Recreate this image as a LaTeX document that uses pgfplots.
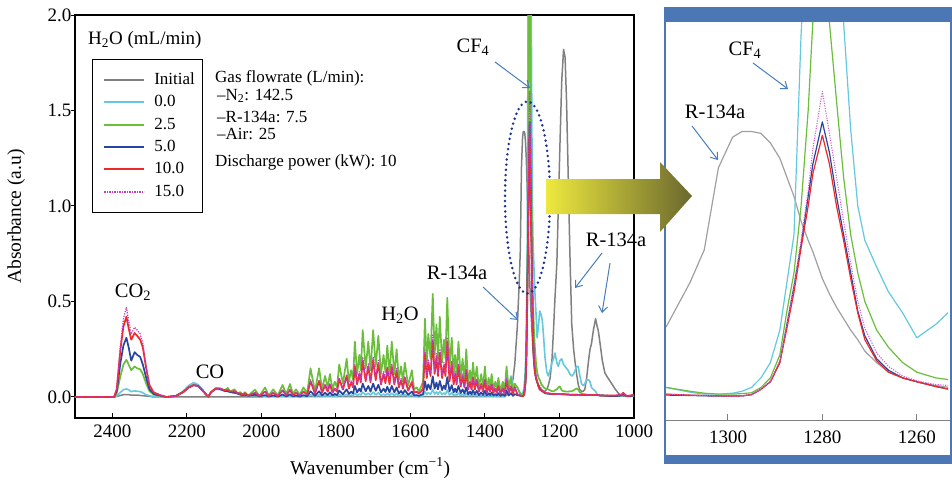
\documentclass[border=0pt]{standalone}
\usepackage{fontspec}
\setmainfont{Liberation Serif}
\usepackage{pgfplots}
\pgfplotsset{compat=1.18}
\usepackage{pgfplotstable}
\usetikzlibrary{arrows.meta}

\definecolor{cGray}{RGB}{128,128,128}
\definecolor{cCyan}{RGB}{100,200,222}
\definecolor{cGreen}{RGB}{106,190,60}
\definecolor{cBlue}{RGB}{40,70,160}
\definecolor{cRed}{RGB}{238,40,40}
\definecolor{cMag}{RGB}{200,60,190}
\definecolor{arrBlue}{RGB}{70,125,190}
\definecolor{ellBlue}{RGB}{30,50,150}
\definecolor{frameBlue}{RGB}{75,120,180}

\pgfplotstableread{
w ini c0 c25 c5 c10 c15
2500 0 0 0 0 0 0
2395 0 0 0 0 0 0
2388 0.003 0.005 0.02 0.03 0.04 0.045
2378 0.008 0.025 0.11 0.18 0.25 0.27
2370 0.012 0.038 0.17 0.27 0.37 0.41
2362 0.012 0.042 0.195 0.31 0.42 0.47
2356 0.012 0.038 0.17 0.26 0.36 0.40
2349 0.01 0.028 0.14 0.19 0.30 0.33
2340 0.01 0.032 0.16 0.235 0.335 0.365
2333 0.01 0.03 0.15 0.22 0.32 0.35
2325 0.008 0.028 0.145 0.21 0.30 0.33
2318 0.007 0.022 0.12 0.17 0.26 0.28
2309 0.005 0.012 0.07 0.10 0.15 0.16
2300 0.003 0.006 0.03 0.04 0.06 0.065
2288 0 0.003 0.012 0.015 0.022 0.025
2272 0 0.002 0.006 0.008 0.01 0.012
2255 0 0 0 0 0 0
2230 0 0.005 0.005 0.005 0.005 0.005
2210 0 0.03 0.025 0.025 0.025 0.025
2195 0 0.06 0.05 0.05 0.05 0.05
2182 0 0.075 0.062 0.062 0.062 0.062
2170 0 0.065 0.058 0.058 0.058 0.058
2158 0 0.04 0.035 0.035 0.035 0.035
2147 0 0.01 0.01 0.01 0.01 0.01
2142 0 0.003 0.002 0.002 0.002 0.002
2135 0 0.025 0.025 0.025 0.025 0.025
2122 0 0.042 0.045 0.045 0.045 0.045
2112 0 0.04 0.045 0.042 0.045 0.045
2098 0 0.03 0.035 0.032 0.035 0.035
2090 0 0.03 0.048 0.03 0.036 0.037
2084 0 0.025 0.028 0.026 0.028 0.028
2072 0 0.022 0.04 0.022 0.03 0.03
2064 0 0.018 0.02 0.018 0.02 0.02
2056 0 0.012 0.025 0.012 0.018 0.018
2050 0 0.01 0.012 0.01 0.012 0.012
2044 0 0.01 0.025 0.012 0.02 0.02
2035 0 0.005 0.008 0.006 0.007 0.007
2017 0 0.008 0.038 0.012 0.022 0.024
2005 0 0.003 0.006 0.004 0.005 0.005
1990 0.002 0.004 0.05 0.010 0.028 0.030
1980 0.002 0.002 0.008 0.002 0.004 0.005
1968 0.002 0.003 0.04 0.008 0.022 0.024
1956 0.002 0.002 0.008 0.002 0.004 0.005
1943 0.002 0.004 0.063 0.013 0.035 0.038
1933 0.002 0.002 0.015 0.003 0.008 0.009
1923 0.002 0.005 0.068 0.014 0.037 0.041
1915 0.002 0.002 0.015 0.003 0.008 0.009
1907 0.002 0.003 0.04 0.008 0.022 0.024
1897 0.002 0.002 0.012 0.002 0.007 0.007
1887 0.002 0.004 0.05 0.010 0.028 0.030
1877 0.002 0.002 0.02 0.004 0.011 0.012
1868 0.002 0.011 0.15 0.030 0.083 0.090
1856 0.002 0.002 0.03 0.006 0.017 0.018
1845 0.002 0.011 0.15 0.030 0.083 0.090
1837 0.002 0.003 0.04 0.008 0.022 0.024
1829 0.002 0.008 0.11 0.022 0.061 0.066
1822 0.002 0.004 0.05 0.010 0.028 0.030
1816 0.002 0.008 0.12 0.024 0.066 0.072
1809 0.002 0.003 0.04 0.008 0.022 0.024
1803 0.002 0.006 0.08 0.016 0.044 0.048
1797 0.002 0.004 0.05 0.010 0.028 0.030
1791 0.002 0.012 0.17 0.034 0.094 0.102
1781 0.002 0.005 0.07 0.014 0.039 0.042
1771 0.002 0.014 0.20 0.040 0.110 0.120
1765 0.002 0.006 0.08 0.016 0.044 0.048
1759 0.002 0.010 0.14 0.028 0.077 0.084
1754 0.002 0.006 0.09 0.018 0.050 0.054
1749 0.002 0.020 0.29 0.058 0.160 0.174
1743 0.002 0.008 0.12 0.024 0.066 0.072
1737 0.002 0.015 0.22 0.044 0.121 0.132
1733 0.002 0.010 0.14 0.028 0.077 0.084
1728 0.002 0.025 0.35 0.070 0.193 0.210
1720 0.002 0.011 0.15 0.030 0.083 0.090
1713 0.002 0.020 0.29 0.058 0.160 0.174
1707 0.002 0.010 0.14 0.028 0.077 0.084
1700 0.002 0.025 0.35 0.070 0.193 0.210
1693 0.002 0.011 0.16 0.032 0.088 0.096
1686 0.002 0.022 0.32 0.064 0.176 0.192
1679 0.002 0.008 0.12 0.024 0.066 0.072
1672 0.002 0.015 0.22 0.044 0.121 0.132
1667 0.002 0.009 0.13 0.026 0.072 0.078
1662 0.002 0.019 0.27 0.054 0.149 0.162
1656 0.002 0.008 0.12 0.024 0.066 0.072
1650 0.002 0.020 0.29 0.058 0.160 0.174
1643 0.002 0.008 0.12 0.024 0.066 0.072
1637 0.002 0.018 0.25 0.050 0.138 0.150
1631 0.002 0.006 0.09 0.018 0.050 0.054
1625 0.002 0.011 0.16 0.032 0.088 0.096
1620 0.002 0.006 0.08 0.016 0.044 0.048
1615 0.002 0.013 0.18 0.036 0.099 0.108
1606 0.002 0.004 0.06 0.012 0.033 0.036
1596 0.002 0.010 0.14 0.028 0.077 0.084
1590 0.002 0.003 0.04 0.008 0.022 0.024
1583 0.002 0.004 0.05 0.010 0.028 0.030
1577 0.002 0.002 0.03 0.006 0.017 0.018
1570 0.002 0.004 0.06 0.012 0.033 0.036
1566 0.002 0.006 0.08 0.016 0.044 0.048
1561 0.002 0.029 0.41 0.082 0.226 0.246
1556 0.002 0.013 0.18 0.036 0.099 0.108
1552 0.002 0.023 0.33 0.066 0.182 0.198
1546 0.002 0.014 0.20 0.040 0.110 0.120
1540 0.002 0.038 0.54 0.108 0.297 0.324
1535 0.002 0.015 0.22 0.044 0.121 0.132
1530 0.002 0.027 0.38 0.076 0.209 0.228
1526 0.002 0.014 0.20 0.040 0.110 0.120
1521 0.002 0.029 0.42 0.084 0.231 0.252
1515 0.002 0.013 0.18 0.036 0.099 0.108
1510 0.002 0.021 0.30 0.060 0.165 0.180
1506 0.002 0.014 0.20 0.040 0.110 0.120
1501 0.002 0.036 0.52 0.104 0.286 0.312
1495 0.002 0.011 0.15 0.030 0.083 0.090
1489 0.002 0.022 0.31 0.062 0.171 0.186
1484 0.002 0.008 0.12 0.024 0.066 0.072
1480 0.002 0.015 0.22 0.044 0.121 0.132
1476 0.002 0.008 0.12 0.024 0.066 0.072
1471 0.002 0.020 0.29 0.058 0.160 0.174
1465 0.002 0.007 0.10 0.020 0.055 0.060
1460 0.002 0.014 0.20 0.040 0.110 0.120
1455 0.002 0.006 0.09 0.018 0.050 0.054
1450 0.002 0.018 0.25 0.050 0.138 0.150
1445 0.002 0.005 0.07 0.014 0.039 0.042
1440 0.002 0.010 0.14 0.028 0.077 0.084
1436 0.002 0.005 0.07 0.014 0.039 0.042
1432 0.002 0.013 0.18 0.036 0.099 0.108
1427 0.002 0.005 0.07 0.014 0.039 0.042
1422 0.002 0.011 0.16 0.032 0.088 0.096
1416 0.002 0.004 0.05 0.010 0.028 0.030
1410 0.002 0.008 0.12 0.024 0.066 0.072
1405 0.002 0.004 0.05 0.010 0.028 0.030
1400 0.002 0.011 0.16 0.032 0.088 0.096
1395 0.002 0.003 0.04 0.008 0.022 0.024
1390 0.002 0.007 0.10 0.020 0.055 0.060
1386 0.002 0.004 0.05 0.010 0.028 0.030
1382 0.002 0.008 0.12 0.024 0.066 0.072
1377 0.002 0.003 0.04 0.008 0.022 0.024
1372 0.002 0.006 0.08 0.016 0.044 0.048
1368 0.002 0.003 0.04 0.008 0.022 0.024
1364 0.002 0.007 0.10 0.020 0.055 0.060
1358 0.002 0.002 0.03 0.006 0.017 0.018
1352 0.002 0.006 0.08 0.016 0.044 0.048
1347 0.002 0.002 0.03 0.006 0.017 0.018
1342 0.01 0.04 0.16 0.032 0.088 0.096
1336 0.02 0.06 0.04 0.008 0.022 0.024
1330 0.05 0.11 0.10 0.02 0.055 0.06
1325 0.09 0.07 0.03 0.006 0.017 0.018
1320 0.17 0.06 0.07 0.015 0.05 0.05
1313 0.37 0.05 0.05 0.01 0.015 0.015
1308 0.60 0.025 0.03 0.008 0.01 0.01
1305 0.77 0.015 0.02 0.006 0.008 0.008
1302 1.20 0.015 0.015 0.005 0.006 0.006
1299 1.36 0.02 0.015 0.005 0.005 0.005
1297 1.39 0.03 0.018 0.006 0.006 0.006
1295 1.39 0.05 0.022 0.012 0.012 0.012
1293 1.38 0.10 0.05 0.04 0.04 0.04
1291 1.33 0.18 0.10 0.08 0.08 0.085
1289 1.25 0.35 0.22 0.18 0.18 0.19
1287.5 1.15 0.6 0.45 0.38 0.36 0.38
1286 1.05 0.85 0.65 0.58 0.55 0.58
1284.5 0.92 1.9 1.0 0.80 0.78 0.82
1283 0.82 2.6 1.5 1.05 1.0 1.08
1282 0.76 2.9 1.97 1.22 1.17 1.3
1280 0.62 3.1 2.6 1.44 1.37 1.6
1278.5 0.54 2.9 1.96 1.28 1.22 1.38
1277 0.47 2.5 1.55 1.05 1.0 1.15
1275.5 0.41 1.96 1.15 0.85 0.82 0.92
1274 0.35 1.4 0.85 0.65 0.62 0.70
1272.5 0.30 1.0 0.65 0.45 0.44 0.50
1271 0.24 0.82 0.50 0.32 0.30 0.36
1268.5 0.18 0.68 0.35 0.20 0.19 0.23
1266 0.13 0.55 0.26 0.14 0.13 0.16
1263 0.10 0.44 0.18 0.10 0.10 0.11
1260 0.08 0.31 0.13 0.08 0.08 0.085
1256 0.06 0.38 0.10 0.055 0.055 0.065
1253 0.05 0.45 0.09 0.04 0.04 0.06
1249 0.04 0.43 0.07 0.035 0.035 0.045
1246 0.035 0.40 0.06 0.03 0.03 0.035
1242 0.03 0.30 0.05 0.025 0.025 0.028
1239 0.03 0.21 0.045 0.02 0.022 0.024
1234 0.04 0.13 0.04 0.018 0.02 0.02
1230 0.06 0.11 0.04 0.017 0.02 0.02
1225 0.10 0.14 0.035 0.016 0.018 0.018
1220 0.20 0.18 0.03 0.015 0.016 0.016
1216 0.35 0.20 0.03 0.015 0.016 0.016
1212 0.52 0.23 0.035 0.015 0.015 0.015
1207 0.70 0.18 0.04 0.015 0.015 0.015
1203 1.00 0.16 0.05 0.015 0.015 0.015
1199 1.30 0.19 0.055 0.015 0.015 0.015
1194 1.65 0.20 0.035 0.014 0.015 0.015
1189 1.82 0.17 0.03 0.014 0.014 0.014
1185 1.78 0.16 0.03 0.014 0.014 0.014
1181 1.55 0.15 0.028 0.013 0.013 0.013
1177 1.20 0.14 0.028 0.013 0.013 0.013
1172 0.75 0.12 0.03 0.012 0.012 0.012
1167 0.38 0.11 0.03 0.012 0.012 0.012
1162 0.25 0.12 0.035 0.012 0.012 0.012
1158 0.18 0.14 0.04 0.012 0.012 0.012
1154 0.12 0.16 0.045 0.012 0.012 0.012
1150 0.07 0.16 0.04 0.011 0.011 0.011
1146 0.04 0.12 0.025 0.011 0.011 0.011
1141 0.03 0.07 0.02 0.01 0.01 0.01
1136 0.03 0.06 0.015 0.01 0.01 0.01
1132 0.04 0.07 0.015 0.01 0.01 0.01
1127 0.10 0.09 0.012 0.01 0.01 0.01
1122 0.19 0.09 0.012 0.01 0.01 0.01
1118 0.25 0.08 0.012 0.01 0.01 0.01
1114 0.28 0.05 0.01 0.01 0.01 0.01
1109 0.35 0.04 0.01 0.01 0.01 0.01
1103 0.41 0.03 0.01 0.01 0.01 0.01
1099 0.37 0.015 0.01 0.01 0.01 0.01
1096 0.35 0.01 0.01 0.01 0.01 0.01
1091 0.28 0.008 0.008 0.008 0.008 0.008
1085 0.19 0.008 0.008 0.008 0.008 0.008
1078 0.125 0.007 0.007 0.007 0.007 0.007
1070 0.10 0.006 0.006 0.006 0.008 0.008
1060 0.07 0.005 0.005 0.005 0.008 0.008
1050 0.04 0.005 0.005 0.005 0.008 0.008
1042 0.02 0.005 0.006 0.006 0.01 0.01
1034 0.008 0.006 0.008 0.008 0.012 0.012
1029 0.005 0.01 0.012 0.015 0.022 0.02
1024 0.004 0.006 0.008 0.008 0.012 0.012
1018 0.003 0.004 0.005 0.004 0.005 0.006
1010 0.003 0.004 0.005 0.005 0.008 0.008
1000 0.004 0.005 0.006 0.008 0.012 0.012
}\spec

\newcommand{\fs}{\fontsize{17}{19}\selectfont}
\newcommand{\fa}{\fontsize{20.5}{23}\selectfont}

\begin{document}
\begin{tikzpicture}
\path[use as bounding box] (0pt,0pt) rectangle (952pt,483pt);

\begin{axis}[
  at={(75pt,65pt)}, anchor=south west,
  scale only axis, width=559pt, height=403pt,
  xmin=1000, xmax=2500, ymin=-0.11, ymax=2.0, x dir=reverse,
  xtick={1000,1200,...,2400}, ytick={0,0.5,1,1.5,2},
  xtick pos=bottom, ytick pos=left,
  tick align=inside, major tick length=5pt,
  y tick style={xshift=-4pt},
  tick style={black, line width=1pt},
  axis line style={line width=1.2pt},
  /pgf/number format/assume math mode=true,
  tick label style={font=\fontsize{19}{21}\selectfont},
  xticklabel style={/pgf/number format/set thousands separator={}, yshift=-3pt},
  yticklabel style={/pgf/number format/.cd, fixed, fixed zerofill, precision=1},
  xlabel={Wavenumber (cm\textsuperscript{−1})},
  ylabel={Absorbance (a.u)},
  label style={font=\fontsize{19.5}{22}\selectfont},
  xlabel style={at={(axis description cs:0.528,-0.124)}, anchor=center},
  ylabel style={at={(axis description cs:-0.105,0.5)}, anchor=center},
  legend cell align=left,
  legend style={at={(rel axis cs:0.0304,0.8908)}, anchor=north west,
    draw=black, line width=1.2pt, font=\fs,
    inner xsep=5pt, inner ysep=11pt, row sep=3.3pt,
    nodes={inner ysep=2pt, inner xsep=3pt, text height=12pt, text depth=3pt}},
  legend image code/.code={\path (-6pt,0pt) (46pt,0pt); \draw[#1, line width=2pt] (0pt,0pt) -- (40pt,0pt);},
  every axis plot/.append style={line join=round},
]
\addplot[cGray, line width=1.5pt] table[x=w,y=ini]{\spec};
\addlegendentry{Initial}
\addplot[cCyan, line width=1.6pt] table[x=w,y=c0]{\spec};
\addlegendentry{0.0}
\addplot[cGreen, line width=1.7pt] table[x=w,y=c25]{\spec};
\addlegendentry{2.5}
\addplot[cBlue, line width=1.7pt] table[x=w,y=c5]{\spec};
\addlegendentry{5.0}
\addplot[cRed, line width=1.7pt] table[x=w,y=c10]{\spec};
\addlegendentry{10.0}
\addplot[cMag, line width=1.3pt, dash pattern=on 1.2pt off 1.3pt] table[x=w,y=c15]{\spec};
\addlegendentry{15.0}
\end{axis}

% inset
\begin{axis}[
  at={(666pt,63pt)}, anchor=south west,
  scale only axis, width=282pt, height=398pt,
  xmin=1253.4, xmax=1313.1, ymin=-0.1204, ymax=1.963, x dir=reverse,
  axis line style={draw=none},
  ytick=\empty,
  xtick={1260,1280,1300}, xtick pos=bottom, xticklabels={},
  tick align=inside, major tick length=6pt,
  tick style={gray, line width=1pt},
  every axis plot/.append style={line join=round},
]
\addplot[cGray!75, line width=1.2pt] table[x=w,y=ini]{\spec};
\addplot[cCyan, line width=1.2pt] table[x=w,y=c0]{\spec};
\addplot[cGreen, line width=1.2pt] table[x=w,y=c25]{\spec};
\addplot[cBlue, line width=1.2pt] table[x=w,y=c5]{\spec};
\addplot[cRed, line width=1.2pt] table[x=w,y=c10]{\spec};
\addplot[cMag!80, line width=1.1pt, dash pattern=on 1.2pt off 1.3pt] table[x=w,y=c15]{\spec};
\end{axis}
\draw[gray, line width=1pt] (665pt,63pt) -- (951pt,63pt);
\node[font=\fontsize{19}{21}\selectfont, inner sep=0pt] at (728pt,46pt) {1300};
\node[font=\fontsize{19}{21}\selectfont, inner sep=0pt] at (822.3pt,46pt) {1280};
\node[font=\fontsize{19}{21}\selectfont, inner sep=0pt] at (916.8pt,46pt) {1260};

% inset frame
\draw[frameBlue, line width=1.5pt] (664.75pt,20pt) rectangle (951.2pt,475pt);
\fill[frameBlue] (664pt,461pt) rectangle (952pt,475.5pt);
\fill[frameBlue] (664pt,19.5pt) rectangle (952pt,28pt);

% dotted ellipse
\draw[ellBlue, line width=2.8pt, line cap=round, dash pattern=on 0pt off 5.2pt]
  (527.5pt,285.5pt) ellipse [x radius=22.5pt, y radius=96pt];

% annotations main
\node[anchor=west, inner sep=0pt, font=\fontsize{19}{21}\selectfont] at (88pt,443pt) {H\textsubscript{2}O (mL/min)};
\node[anchor=west, inner sep=0pt, font=\fs] at (215pt,405pt) {Gas flowrate (L/min):};
\node[anchor=west, inner sep=0pt, font=\fs] at (217pt,387pt) {–N\textsubscript{2}: 142.5};
\node[anchor=west, inner sep=0pt, font=\fs] at (217pt,366pt) {–R-134a: 7.5};
\node[anchor=west, inner sep=0pt, font=\fs] at (217pt,349pt) {–Air: 25};
\node[anchor=west, inner sep=0pt, font=\fs] at (215pt,321pt) {Discharge power (kW): 10};

\node[inner sep=0pt, font=\fa] at (473pt,436pt) {CF\textsubscript{4}};
\node[inner sep=0pt, font=\fa] at (457pt,210pt) {R-134a};
\node[inner sep=0pt, font=\fa] at (616pt,243pt) {R-134a};
\node[inner sep=0pt, font=\fa] at (133pt,191pt) {CO\textsubscript{2}};
\node[inner sep=0pt, font=\fa] at (210pt,111pt) {CO};
\node[inner sep=0pt, font=\fa] at (400pt,168pt) {H\textsubscript{2}O};

\begin{scope}[arrBlue, line width=1pt, -{Straight Barb[length=6pt,width=9pt]}]
\draw (495pt,421pt) -- (530pt,395pt);
\draw (483pt,196pt) -- (518pt,163pt);
\draw (602pt,230pt) -- (575pt,195pt);
\draw (610pt,220pt) -- (602pt,170pt);
\draw (753pt,420pt) -- (788pt,394pt);
\draw (692pt,357pt) -- (718pt,323pt);
\end{scope}

% inset annotations
\node[inner sep=0pt, font=\fa] at (745pt,433pt) {CF\textsubscript{4}};
\node[inner sep=0pt, font=\fa] at (715pt,371pt) {R-134a};

% big arrow
\shade[left color={rgb,255:red,238;green,233;blue,62}, middle color={rgb,255:red,222;green,218;blue,48}, right color={rgb,255:red,106;green,104;blue,46}]
  (546pt,304pt) -- (660pt,304pt) -- (660pt,321pt) -- (692pt,287pt) -- (660pt,251pt) -- (660pt,269pt) -- (546pt,269pt) -- cycle;
\end{tikzpicture}
\end{document}
